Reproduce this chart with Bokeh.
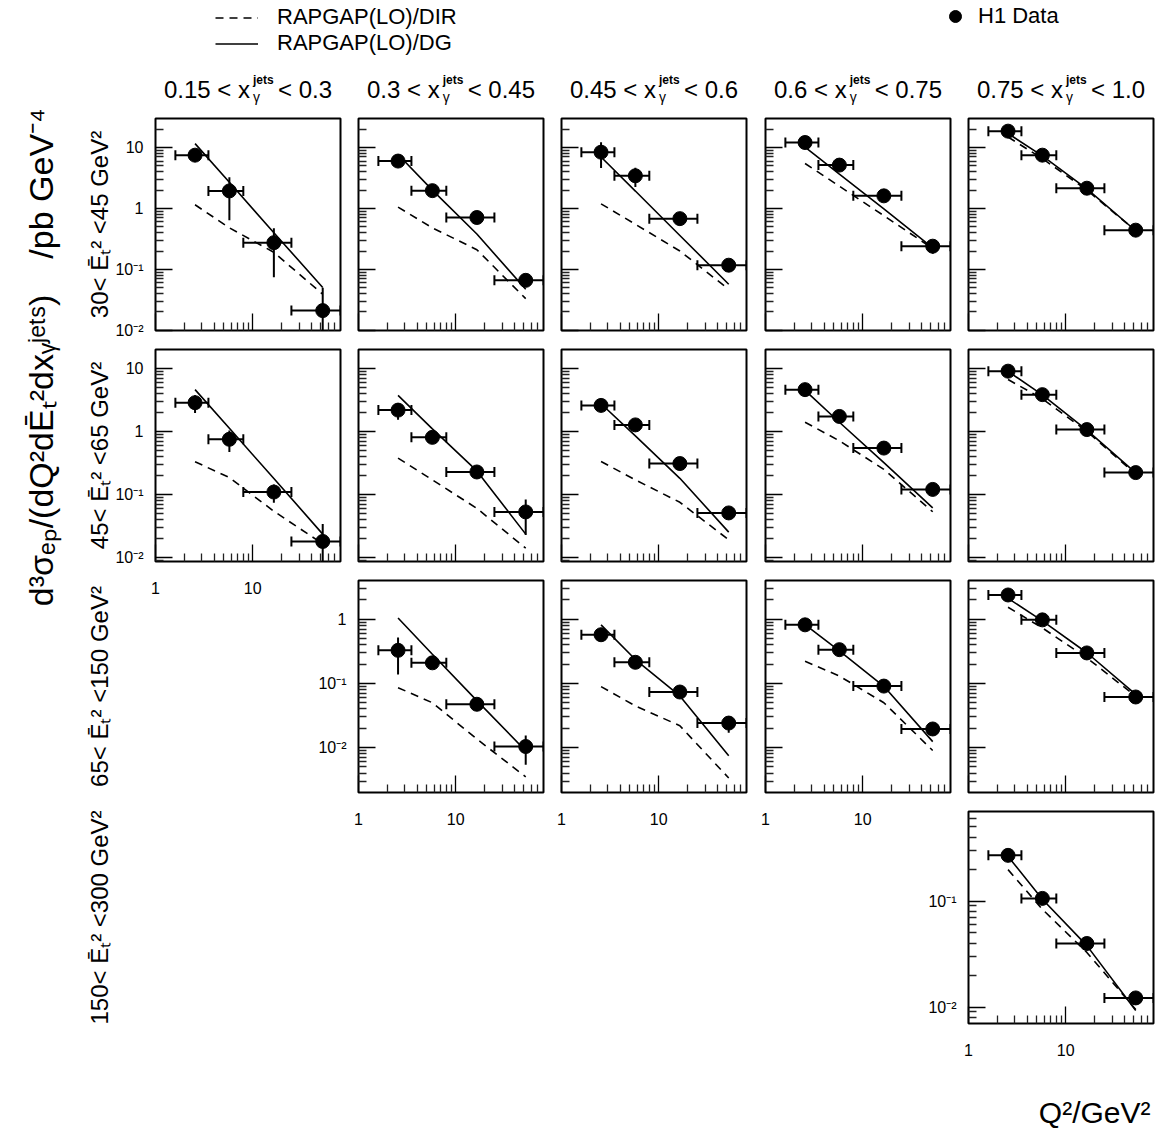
import math
from bokeh.plotting import figure
from bokeh.models import (Range1d, FixedTicker, Whisker, TeeHead, ColumnDataSource,
                          Legend, LegendItem, GridBox, CustomJSTickFormatter)
from bokeh.core.properties import value
from bokeh.embed import file_html
from bokeh.resources import INLINE

FONT = "Liberation Sans"

# ---------------- data ----------------
Q2_LO = [1.6, 3.5, 8.0, 25.0]
Q2_HI = [3.5, 8.0, 25.0, 80.0]
Q2_MID = [2.55, 5.75, 16.5, 52.5]

XG_LO = ["0.15", "0.3", "0.45", "0.6", "0.75"]
XG_HI = ["0.3", "0.45", "0.6", "0.75", "1.0"]
ET_LABELS = ["30< \u0112\u209c\u00b2 <45 GeV\u00b2", "45< \u0112\u209c\u00b2 <65 GeV\u00b2",
             "65< \u0112\u209c\u00b2 <150 GeV\u00b2", "150< \u0112\u209c\u00b2 <300 GeV\u00b2"]

# 30 < Et^2 < 45 GeV^2  (columns: x_gamma bins)
H1_ET1 = [[7.5, 1.94, 0.274, 0.021], [6.0, 1.96, 0.71, 0.066], [8.4, 3.44, 0.68, 0.117],
          [12.1, 5.15, 1.61, 0.24], [18.6, 7.5, 2.15, 0.44]]
ERR_ET1 = [[1.5, 1.3, 0.2, 0.029], [0.9, 0.3, 0.1, 0.012], [3.8, 1.2, 0.1, 0.015],
           [1.5, 0.6, 0.2, 0.06], [2.0, 0.8, 0.25, 0.05]]
DG_ET1 = [[11.6, 2.69, 0.40, 0.0505], [7.7, 2.0, 0.38, 0.047], [7.0, 1.93, 0.36, 0.057],
          [10.2, 3.67, 0.98, 0.226], [17.0, 7.3, 2.1, 0.43]]
DIR_ET1 = [[1.15, 0.48, 0.19, 0.039], [1.05, 0.48, 0.21, 0.033], [1.19, 0.55, 0.2, 0.047],
           [5.48, 2.32, 0.76, 0.22], [14.9, 6.6, 2.0, 0.43]]

# 45 < Et^2 < 65 GeV^2
H1_ET2 = [[2.86, 0.75, 0.109, 0.0179], [2.18, 0.805, 0.227, 0.0527], [2.59, 1.27, 0.309, 0.0508],
          [4.61, 1.73, 0.544, 0.12], [9.06, 3.84, 1.07, 0.222]]
ERR_ET2 = [[0.9, 0.28, 0.035, 0.016], [0.65, 0.1, 0.03, 0.03], [0.4, 0.15, 0.04, 0.008],
           [0.5, 0.2, 0.08, 0.025], [1.0, 0.4, 0.12, 0.03]]
DG_ET2 = [[4.61, 1.12, 0.179, 0.0234], [3.74, 1.1, 0.236, 0.0234], [2.75, 0.85, 0.18, 0.0252],
          [4.5, 1.4, 0.32, 0.061], [9.0, 3.8, 1.05, 0.22]]
DIR_ET2 = [[0.33, 0.185, 0.054, 0.0164], [0.377, 0.17, 0.06, 0.014], [0.333, 0.17, 0.075, 0.019],
           [1.4, 0.71, 0.25, 0.053], [6.67, 3.3, 1.0, 0.21]]

# 65 < Et^2 < 150 GeV^2 (no first column)
H1_ET3 = [None, [0.327, 0.209, 0.0473, 0.0104], [0.572, 0.213, 0.0734, 0.0241],
          [0.816, 0.335, 0.0908, 0.0195], [2.38, 0.975, 0.298, 0.0614]]
ERR_ET3 = [None, [0.19, 0.03, 0.006, 0.005], [0.08, 0.03, 0.01, 0.007],
           [0.08, 0.04, 0.01, 0.003], [0.25, 0.1, 0.03, 0.007]]
DG_ET3 = [None, [1.04, 0.284, 0.054, 0.0089], [0.816, 0.235, 0.0637, 0.0075],
          [0.82, 0.32, 0.09, 0.0124], [2.11, 0.94, 0.30, 0.0676]]
DIR_ET3 = [None, [0.0858, 0.05, 0.0136, 0.0035], [0.089, 0.0446, 0.0219, 0.00336],
           [0.221, 0.13, 0.05, 0.009], [1.53, 0.73, 0.25, 0.063]]

# 150 < Et^2 < 300 GeV^2 (last column only)
H1_ET4 = [None, None, None, None, [0.27, 0.106, 0.0398, 0.0122]]
ERR_ET4 = [None, None, None, None, [0.03, 0.01, 0.004, 0.0015]]
DG_ET4 = [None, None, None, None, [0.264, 0.104, 0.038, 0.0093]]
DIR_ET4 = [None, None, None, None, [0.198, 0.0836, 0.0328, 0.0095]]

H1 = [H1_ET1, H1_ET2, H1_ET3, H1_ET4]
ERR = [ERR_ET1, ERR_ET2, ERR_ET3, ERR_ET4]
DG = [DG_ET1, DG_ET2, DG_ET3, DG_ET4]
DIR = [DIR_ET1, DIR_ET2, DIR_ET3, DIR_ET4]

Y_RANGE = [(0.0099, 30.0), (0.0086, 20.0), (0.002, 4.0), (0.007, 0.7)]
X_RANGE = (0.999, 80.0)
Y_LABELS = {10.0: "10", 1.0: "1", 0.1: "10\u207b\u00b9", 0.01: "10\u207b\u00b2"}
X_LABELS = {1.0: "1", 10.0: "10"}

# ---------------- layout constants ----------------
W_TOT, H_TOT = 1161, 1140
FRAME_L = [155, 358, 561, 765, 968]
FRAME_T = [118, 349, 580, 811]
FW, FH = 185, 212
BL, BR, BT, BB = 70, 4, 2, 46

Y_LAB_PANELS = {(0, 0), (1, 0), (2, 1), (3, 4)}
X_LAB_PANELS = {(1, 0), (2, 1), (2, 2), (2, 3), (3, 4)}


def log_ticks(lo, hi):
    major, minor = [], []
    for k in range(int(math.floor(math.log10(lo))) - 1, int(math.ceil(math.log10(hi))) + 1):
        b = float("1e%d" % k)
        if lo * 0.999 <= b <= hi * 1.001:
            major.append(b)
        for m in range(2, 10):
            v = float("%de%d" % (m, k))
            if lo < v < hi:
                minor.append(v)
    return major, minor


def style_axis(ax, labels, standoff):
    ax.axis_line_color = None
    ax.major_tick_in = 17
    ax.major_tick_out = 0
    ax.minor_tick_in = 8
    ax.minor_tick_out = 0
    ax.major_tick_line_width = 1.3
    ax.minor_tick_line_width = 1.3
    ax.major_tick_line_color = "black"
    ax.minor_tick_line_color = "#222222"
    ax.major_label_text_font = FONT
    ax.major_label_text_font_size = "16px"
    ax.major_label_text_color = "black"
    ax.major_label_standoff = standoff
    if labels is None:
        ax.formatter = CustomJSTickFormatter(code="return ''")
    else:
        ax.major_label_overrides = labels


def make_panel(r, c):
    pts, errs, dg, dr = H1[r][c], ERR[r][c], DG[r][c], DIR[r][c]
    ylo, yhi = Y_RANGE[r]
    p = figure(width=BL + FW + BR, height=BT + FH + BB,
               x_axis_type="log", y_axis_type="log",
               x_range=Range1d(*X_RANGE), y_range=Range1d(ylo, yhi),
               output_backend="svg", toolbar_location=None, title=None,
               min_border_left=BL, min_border_right=BR,
               min_border_top=BT, min_border_bottom=BB)
    p.margin = (FRAME_T[r] - BT, 0, 0, FRAME_L[c] - BL)
    p.border_fill_color = None
    p.background_fill_color = "white"
    p.outline_line_color = "black"
    p.outline_line_width = 2
    p.xgrid.visible = False
    p.ygrid.visible = False

    xmaj, xmin = log_ticks(*X_RANGE)
    p.xaxis.ticker = FixedTicker(ticks=xmaj, minor_ticks=xmin)
    ymaj, ymin = log_ticks(ylo, yhi)
    p.yaxis.ticker = FixedTicker(ticks=ymaj, minor_ticks=ymin)
    style_axis(p.xaxis[0], X_LABELS if (r, c) in X_LAB_PANELS else None, 20)
    style_axis(p.yaxis[0], {k: v for k, v in Y_LABELS.items() if k in ymaj}
               if (r, c) in Y_LAB_PANELS else None, 12)

    src = ColumnDataSource(dict(
        x=Q2_MID, y=pts, xlo=Q2_LO, xhi=Q2_HI,
        elo=[max(v - e, ylo * 0.5) for v, e in zip(pts, errs)],
        ehi=[v + e for v, e in zip(pts, errs)],
        dg=dg, dr=dr))
    p.line("x", "dr", source=src, line_dash="8 6", line_width=1.6, line_color="black")
    p.line("x", "dg", source=src, line_width=1.6, line_color="black")
    p.segment(x0="x", y0="elo", x1="x", y1="ehi", source=src, line_width=2, line_color="black")
    p.add_layout(Whisker(source=src, base="y", lower="xlo", upper="xhi", dimension="width",
                         line_width=2, line_color="black",
                         lower_head=TeeHead(size=10, line_width=2, line_color="black"),
                         upper_head=TeeHead(size=10, line_width=2, line_color="black")))
    p.scatter("x", "y", source=src, size=14, marker="circle", color="black")
    return p


# ---------------- overlay with texts and legends ----------------
# The grid aligns this plot's borders with the panels' borders (BL, BR, BT, BB),
# so its ranges are chosen to make data units equal to page pixels.
ov = figure(width=W_TOT, height=H_TOT, x_range=Range1d(BL, W_TOT - BR),
            y_range=Range1d(BB, H_TOT - BT),
            output_backend="svg", toolbar_location=None, title=None,
            min_border_left=BL, min_border_right=BR, min_border_top=BT, min_border_bottom=BB,
            x_axis_location=None, y_axis_location=None)
ov.grid.visible = False
ov.outline_line_color = None
ov.background_fill_color = "white"
ov.border_fill_color = "white"


def Y(ys):
    return H_TOT - ys


TXT = dict(text_font=value(FONT), text_color="black", level="overlay")

# column titles built from pieces: "lo < x", superscript "jets", subscript gamma, "< hi"
CW = {ch: 0.556 for ch in "0123456789"}
CW.update({'.': 0.278, ' ': 0.278, '<': 0.584, 'x': 0.5})
TFS = 24
SCR_W = 20
tl_x, tl_t, tr_x, tr_t, sj_x, sg_x = [], [], [], [], [], []
for c in range(5):
    left = "%s < x" % XG_LO[c]
    right = "< %s" % XG_HI[c]
    wl = sum(CW[ch] for ch in left) * TFS
    wr = sum(CW[ch] for ch in right) * TFS
    total = wl + 3 + SCR_W + 5 + wr
    x0 = FRAME_L[c] + FW / 2 - total / 2
    tl_x.append(x0); tl_t.append(left)
    sj_x.append(x0 + wl + 3); sg_x.append(x0 + wl + 3)
    tr_x.append(x0 + wl + 3 + SCR_W + 5); tr_t.append(right)

ov.text(x=tl_x, y=[Y(89)] * 5, text=tl_t, text_font_size="%dpx" % TFS,
        text_align="left", text_baseline="middle", **TXT)
ov.text(x=tr_x, y=[Y(89)] * 5, text=tr_t, text_font_size="%dpx" % TFS,
        text_align="left", text_baseline="middle", **TXT)
ov.text(x=sj_x, y=[Y(79)] * 5, text=["jets"] * 5, text_font_size="12px",
        text_font_style="bold", text_align="left", text_baseline="middle", **TXT)
ov.text(x=sg_x, y=[Y(96)] * 5, text=["\u03b3"] * 5, text_font_size="14px",
        text_align="left", text_baseline="middle", **TXT)

# row labels (rotated)
ROW_CY = [FRAME_T[r] + FH / 2 for r in range(4)]
ov.text(x=[99] * 4, y=[Y(v) for v in ROW_CY], text=ET_LABELS, angle=math.pi / 2,
        text_font_size="24px", text_align="center", text_baseline="middle", **TXT)

# big y-axis title
ov.text(x=[40, 40], y=[Y(450), Y(183)],
        text=["d\u00b3\u03c3\u2091\u209a/(dQ\u00b2d\u0112\u209c\u00b2dx\u1d67\u02b2\u1d49\u1d57\u02e2)",
              "/pb GeV\u207b\u2074"],
        angle=math.pi / 2, text_font_size="34px",
        text_align="center", text_baseline="middle", **TXT)

# x-axis title
ov.text(x=[1150], y=[Y(1112)], text=["Q\u00b2/GeV\u00b2"],
        text_font_size="30px", text_align="right", text_baseline="middle", **TXT)

# legends (location is relative to the frame's bottom-left corner).
# The legend-only renderers hold a single NaN point so nothing is drawn in the plot area.
NAN = float("nan")
r_dir = ov.line(x=[NAN], y=[NAN], line_dash="8 6", line_width=1.6, line_color="black")
r_dg = ov.line(x=[NAN], y=[NAN], line_width=1.6, line_color="black")
r_h1 = ov.scatter(x=[NAN], y=[NAN], marker="circle", size=12, color="black")

FRAME_BOTTOM = H_TOT - BB
leg1 = Legend(items=[LegendItem(label="RAPGAP(LO)/DIR", renderers=[r_dir]),
                     LegendItem(label="RAPGAP(LO)/DG", renderers=[r_dg])],
              location=(215 - BL, FRAME_BOTTOM - 56), orientation="vertical",
              border_line_color=None, background_fill_alpha=0, padding=0, margin=0,
              spacing=0, glyph_width=43, glyph_height=25, label_height=25, label_standoff=19,
              label_text_font=FONT, label_text_font_size="22px", label_text_color="black")
leg2 = Legend(items=[LegendItem(label="H1 Data", renderers=[r_h1])],
              location=(940 - BL, FRAME_BOTTOM - 31), orientation="vertical",
              border_line_color=None, background_fill_alpha=0, padding=0, margin=0,
              spacing=0, glyph_width=30, glyph_height=30, label_height=25, label_standoff=8,
              label_text_font=FONT, label_text_font_size="22px", label_text_color="black")
ov.add_layout(leg1)
ov.add_layout(leg2)

# ---------------- assemble ----------------
children = [(ov, 0, 0)]
for r in range(4):
    for c in range(5):
        if H1[r][c] is not None:
            children.append((make_panel(r, c), 0, 0))

grid = GridBox(children=children)

open("out.html", "w").write(file_html(grid, INLINE))
